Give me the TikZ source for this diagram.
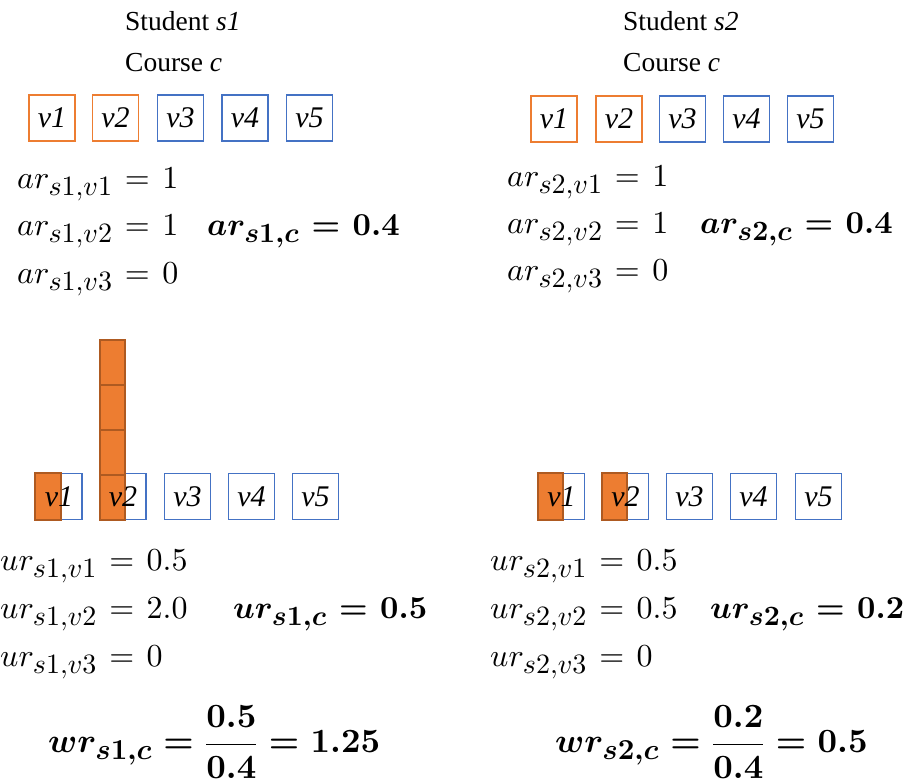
\documentclass[tikz,border=0pt]{standalone}
\usepackage{fix-cm}
\usepackage{amsmath}
\usepackage{bm}
\usepackage{graphicx}
\usepackage{fontspec}
\setmainfont{Liberation Serif}
\DeclareFontShape{OT1}{cmr}{m}{n}{<->cmr10}{}
\DeclareFontShape{OT1}{cmr}{bx}{n}{<->cmbx10}{}
\DeclareFontShape{OML}{cmm}{m}{it}{<->cmmi10}{}
\DeclareFontShape{OML}{cmm}{b}{it}{<->cmmib10}{}
\DeclareFontShape{OMS}{cmsy}{m}{n}{<->cmsy10}{}
\DeclareFontShape{OMS}{cmsy}{b}{n}{<->cmbsy10}{}
\DeclareMathSizes{32}{32}{28}{22}
\DeclareMathSizes{34}{34}{29}{23}
\newcommand\myeqfnt{\fontsize{32}{32}\selectfont\thickmuskip=7mu\relax}
\newcommand\mywfnt{\fontsize{34}{34}\selectfont\thickmuskip=6mu\relax}
\definecolor{myorange}{HTML}{ED7D31}
\definecolor{myblue}{HTML}{4472C4}
\definecolor{mybrown}{HTML}{AE5A21}
\tikzset{
  vbox/.style={draw=myblue, line width=1.5pt, minimum width=46pt, minimum height=46pt, inner sep=0pt},
  obox/.style={vbox, draw=myorange},
  vlab/.style={inner sep=0pt, font=\fontsize{30}{30}\selectfont\itshape},
  bar/.style={fill=myorange, draw=mybrown, line width=1.5pt},
  eq/.style={anchor=base west, inner sep=0pt, font=\myeqfnt},
  weq/.style={anchor=west, inner sep=0pt, font=\mywfnt},
  head/.style={anchor=base west, inner sep=0pt, font=\fontsize{27.5}{27.5}\selectfont},
}
\begin{document}
\begin{tikzpicture}[x=1pt,y=-1pt]
\useasboundingbox (0,0) rectangle (916,784);
% headers
\node[head] (h1a) at (125,31) {Student \textit{s1}};
\node[head] (h1b) at (125,72) {Course \textit{c}};
\node[head] (h2a) at (623,31) {Student \textit{s2}};
\node[head] (h2b) at (623,72) {Course \textit{c}};
% top row left
\node[obox] (a1) at (52,118) {};  \node[vlab] (a1t) at (a1) {v1};
\node[obox] (a2) at (115.5,118) {}; \node[vlab] (a2t) at (a2) {v2};
\node[vbox] (a3) at (180.5,118) {}; \node[vlab] (a3t) at (a3) {v3};
\node[vbox] (a4) at (245,118) {}; \node[vlab] (a4t) at (a4) {v4};
\node[vbox] (a5) at (309.5,118) {}; \node[vlab] (a5t) at (a5) {v5};
% top row right
\node[obox] (b1) at (554,119) {};  \node[vlab] (b1t) at (b1) {v1};
\node[obox] (b2) at (619,119) {}; \node[vlab] (b2t) at (b2) {v2};
\node[vbox] (b3) at (682.5,119) {}; \node[vlab] (b3t) at (b3) {v3};
\node[vbox] (b4) at (746.5,119) {}; \node[vlab] (b4t) at (b4) {v4};
\node[vbox] (b5) at (810.5,119) {}; \node[vlab] (b5t) at (b5) {v5};
% ar equations left
\node[eq] (e1) at (17,188) {$ar_{s1,v1}=1$};
\node[eq] (e2) at (17,235) {$ar_{s1,v2}=1$};
\node[eq] (e3) at (17,283) {$ar_{s1,v3}=0$};
\node[eq] (e4) at (207,235) {$\boldsymbol{ar_{s1,c}=0.4}$};
% ar equations right
\node[eq] (f1) at (507,186) {$ar_{s2,v1}=1$};
\node[eq] (f2) at (507,233) {$ar_{s2,v2}=1$};
\node[eq] (f3) at (507,280) {$ar_{s2,v3}=0$};
\node[eq] (f4) at (700,233) {$\boldsymbol{ar_{s2,c}=0.4}$};
% bottom row left
\node[vbox] (c1) at (59,496.5) {};
\node[vbox] (c2) at (123,496.5) {};
\node[vbox] (c3) at (187.5,496.5) {}; \node[vlab] (c3t) at (c3) {v3};
\node[vbox] (c4) at (251.5,496.5) {}; \node[vlab] (c4t) at (c4) {v4};
\node[vbox] (c5) at (315.5,496.5) {}; \node[vlab] (c5t) at (c5) {v5};
\draw[bar] (35,473) rectangle (61,520);
\draw[bar] (100,475) rectangle (125,520);
\draw[bar] (100,430) rectangle (125,475);
\draw[bar] (100,385) rectangle (125,430);
\draw[bar] (100,340) rectangle (125,385);
\node[vlab] (c1t) at (c1) {v1};
\node[vlab] (c2t) at (c2) {v2};
% bottom row right
\node[vbox] (d1) at (561.5,496.5) {};
\node[vbox] (d2) at (625.5,496.5) {};
\node[vbox] (d3) at (689.5,496.5) {}; \node[vlab] (d3t) at (d3) {v3};
\node[vbox] (d4) at (753.5,496.5) {}; \node[vlab] (d4t) at (d4) {v4};
\node[vbox] (d5) at (818.5,496.5) {}; \node[vlab] (d5t) at (d5) {v5};
\draw[bar] (538,473) rectangle (563,520);
\draw[bar] (602,473) rectangle (627,520);
\node[vlab] (d1t) at (d1) {v1};
\node[vlab] (d2t) at (d2) {v2};
% ur equations left
\node[eq] (g1) at (0,570) {$ur_{s1,v1}=0.5$};
\node[eq] (g2) at (0,618) {$ur_{s1,v2}=2.0$};
\node[eq] (g3) at (0,666) {$ur_{s1,v3}=0$};
\node[eq] (g4) at (233,618) {$\boldsymbol{ur_{s1,c}=0.5}$};
% ur equations right
\node[eq] (k1) at (490,570) {$ur_{s2,v1}=0.5$};
\node[eq] (k2) at (490,618) {$ur_{s2,v2}=0.5$};
\node[eq] (k3) at (490,666) {$ur_{s2,v3}=0$};
\node[eq] (k4) at (710,618) {$\boldsymbol{ur_{s2,c}=0.2}$};
% wr
\node[weq] (w1) at (48,742) {$\boldsymbol{wr_{s1,c}=\dfrac{0.5}{0.4}=1.25}$};
\node[weq] (w2) at (555,742) {$\boldsymbol{wr_{s2,c}=\dfrac{0.2}{0.4}=0.5}$};
\end{tikzpicture}
\end{document}
